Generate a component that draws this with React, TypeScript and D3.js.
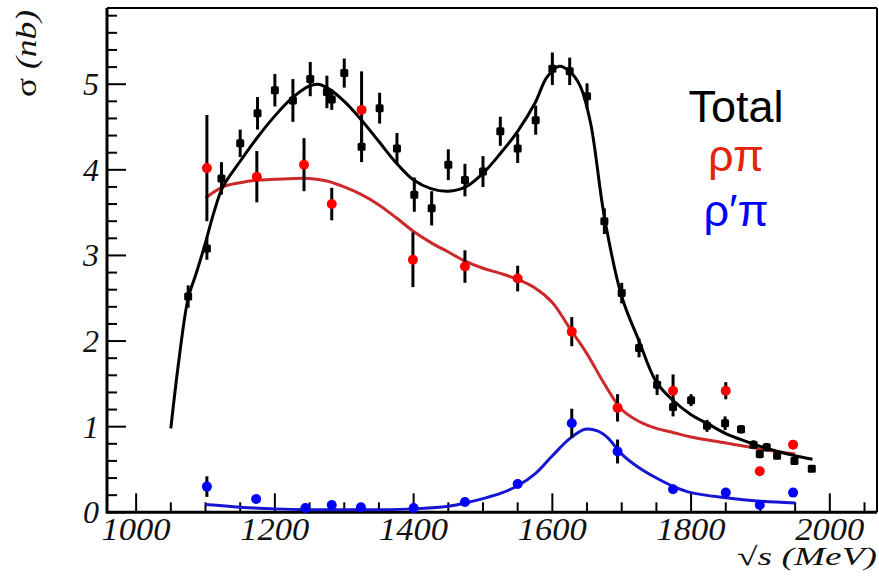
import React from 'react';
import * as d3 from 'd3';

// ---- data ----
const totalX = [1075,1102,1123,1150,1175,1200,1226,1251,1275,1282,1300,1325,1351,1376,1401,1426,1450,1474,1500,1525,1550,1576,1600,1625,1650,1675,1700,1725,1751,1774,1800,1823,1849,1872,1890,1899,1909,1924,1949,1974];
const totalY = [2.52,3.08,3.90,4.31,4.66,4.93,4.81,5.06,4.91,4.82,5.13,4.27,4.72,4.25,3.71,3.55,4.06,3.88,3.98,4.45,4.25,4.58,5.18,5.15,4.86,3.40,2.56,1.92,1.49,1.23,1.31,1.01,1.04,0.97,0.79,0.68,0.76,0.66,0.60,0.51];
const totalErr = [0.13,0.13,0.19,0.16,0.19,0.19,0.25,0.2,0.19,0.12,0.17,0.18,0.18,0.18,0.2,0.2,0.18,0.19,0.18,0.17,0.17,0.17,0.19,0.16,0.15,0.15,0.12,0.11,0.12,0.11,0.07,0.07,0.08,0.05,0.05,0.05,0.05,0.04,0.04,0.04];

const rhoPiX = [1102,1174,1242,1282,1325,1399,1474,1550,1628,1694,1774,1850,1899,1947];
const rhoPiY = [4.02,3.92,4.06,3.60,4.70,2.95,2.87,2.73,2.11,1.22,1.42,1.42,0.48,0.79];
const rhoPiErr = [0.62,0.30,0.31,0.19,0.45,0.32,0.19,0.15,0.17,0.16,0.19,0.10,0.03,0.03];

const rhoPrimeX = [1102,1173,1244,1282,1324,1400,1474,1550,1628,1694,1774,1850,1899,1947];
const rhoPrimeY = [0.30,0.155,0.05,0.085,0.06,0.05,0.12,0.33,1.04,0.71,0.27,0.23,0.085,0.23];
const rhoPrimeErr = [0.12,0.03,0.02,0.02,0.02,0.02,0.02,0.03,0.17,0.14,0.04,0.03,0.02,0.03];

const totalCurveX = [1050,1062,1075,1087,1100,1112,1125,1150,1175,1200,1225,1250,1262,1275,1300,1325,1350,1375,1400,1425,1450,1475,1500,1525,1550,1575,1592,1610,1625,1640,1655,1675,1700,1725,1750,1775,1800,1825,1850,1875,1900,1925,1950,1975];
const totalCurveY = [0.98,1.80,2.50,2.80,3.15,3.50,3.80,4.10,4.38,4.63,4.84,4.98,5.0,4.96,4.80,4.58,4.33,4.08,3.88,3.78,3.75,3.80,3.96,4.19,4.45,4.78,5.08,5.21,5.15,4.98,4.55,3.45,2.52,2.0,1.52,1.30,1.14,1.03,0.92,0.84,0.77,0.71,0.66,0.62];

const rhoCurveX = [1100,1125,1150,1175,1200,1250,1275,1300,1325,1350,1375,1400,1425,1450,1475,1500,1525,1550,1575,1600,1625,1650,1675,1700,1725,1750,1775,1800,1850,1900,1950];
const rhoCurveY = [3.67,3.80,3.85,3.88,3.89,3.90,3.87,3.80,3.71,3.59,3.44,3.28,3.15,3.04,2.93,2.85,2.79,2.72,2.62,2.45,2.15,1.85,1.50,1.20,1.06,0.98,0.93,0.88,0.81,0.74,0.68];

const rhoPrimeCurveX = [1100,1150,1200,1250,1300,1350,1400,1450,1475,1500,1525,1550,1575,1600,1625,1647,1665,1680,1700,1725,1750,1775,1800,1850,1900,1950];
const rhoPrimeCurveY = [0.09,0.06,0.04,0.03,0.03,0.03,0.04,0.07,0.11,0.16,0.22,0.31,0.45,0.66,0.86,0.97,0.95,0.87,0.68,0.52,0.40,0.30,0.23,0.17,0.13,0.11];

const xTickLabels = [1000, 1200, 1400, 1600, 1800, 2000];
const yTickLabels = [0, 1, 2, 3, 4, 5];
const legendLabels = ['Total', 'ρπ', 'ρ′π'];

// ---- layout ----
const W = 879, H = 580;
const L = 107, R = 877, T = 8, B = 512.3;

export default function App() {
  const x = d3.scaleLinear().domain([958, 2068]).range([L, R]);
  const y = d3.scaleLinear().domain([0, 5.89]).range([B, T]);

  const line = d3.line<[number, number]>()
    .x(d => x(d[0]))
    .y(d => y(d[1]))
    .curve(d3.curveCatmullRom.alpha(0.5));

  const pts = (xs: number[], ys: number[]) => xs.map((v, i) => [v, ys[i]] as [number, number]);

  const xMinor = d3.range(1000, 2068, 50);
  const yMinor = d3.range(0, 5.81, 0.2);

  const serif = '"Liberation Serif", "Times New Roman", serif';
  const sans = '"Liberation Sans", Arial, sans-serif';

  const errBars = (xs: number[], ys: number[], es: number[], key: string) =>
    xs.map((v, i) => (
      <line key={key + i} x1={x(v)} x2={x(v)} y1={y(ys[i] + es[i])} y2={y(Math.max(0, ys[i] - es[i]))}
        stroke="#000" strokeWidth={3} />
    ));

  return (
    <svg width={W} height={H} style={{ position: 'absolute', left: 0, top: 0, background: '#fff' }}>
      <rect x={0} y={0} width={W} height={H} fill="#fff" />
      {/* frame */}
      <line x1={L} x2={R} y1={T} y2={T} stroke="#000" strokeWidth={2} />
      <line x1={R} x2={R} y1={T} y2={B} stroke="#000" strokeWidth={2} />
      <line x1={L} x2={L} y1={T} y2={B + 1} stroke="#000" strokeWidth={3} />
      <line x1={L - 1} x2={R} y1={B} y2={B} stroke="#000" strokeWidth={3} />

      {/* x ticks */}
      {xMinor.map(v => (
        <line key={'xm' + v} x1={x(v)} x2={x(v)} y1={B} y2={B - (v % 200 === 0 ? 19 : 10)} stroke="#000" strokeWidth={2} />
      ))}
      {xTickLabels.map(v => (
        <text key={'xl' + v} x={x(v)} y={540} textAnchor="middle" fontFamily={serif} fontStyle="italic" fontSize={31} textLength={69} lengthAdjust="spacingAndGlyphs" fill="#111">{v}</text>
      ))}
      {/* y ticks */}
      {yMinor.map((v, i) => (
        <line key={'ym' + i} x1={L} x2={L + (i % 5 === 0 ? 19 : 10)} y1={y(v)} y2={y(v)} stroke="#000" strokeWidth={2} />
      ))}
      {yTickLabels.map(v => (
        <text key={'yl' + v} x={99} y={y(v) + 11} textAnchor="end" fontFamily={serif} fontStyle="italic" fontSize={32} fill="#111">{v}</text>
      ))}

      {/* axis titles */}
      <text transform="translate(36,53.5) rotate(-90)" textAnchor="middle" fontFamily={serif} fontSize={30} textLength={87} lengthAdjust="spacingAndGlyphs" fill="#111">
        σ <tspan fontStyle="italic">(nb)</tspan>
      </text>
      <text x={877} y={565} textAnchor="end" fontFamily={serif} fontStyle="italic" fontSize={26} textLength={140} lengthAdjust="spacingAndGlyphs" fill="#111">√s (MeV)</text>

      {/* curves */}
      <path d={line(pts(rhoPrimeCurveX, rhoPrimeCurveY)) || ''} fill="none" stroke="#1616d2" strokeWidth={3} />
      <path d={line(pts(rhoCurveX, rhoCurveY)) || ''} fill="none" stroke="#cc2a2a" strokeWidth={3} />
      <path d={line(pts(totalCurveX, totalCurveY)) || ''} fill="none" stroke="#000" strokeWidth={3} />

      {/* error bars */}
      {errBars(totalX, totalY, totalErr, 'te')}
      {errBars(rhoPiX, rhoPiY, rhoPiErr, 're')}
      {errBars(rhoPrimeX, rhoPrimeY, rhoPrimeErr, 'be')}

      {/* markers */}
      {totalX.map((v, i) => (
        <rect key={'tm' + i} x={x(v) - 4} y={y(totalY[i]) - 4} width={8} height={8} rx={1.5} fill="#000" />
      ))}
      {rhoPiX.map((v, i) => (
        <circle key={'rm' + i} cx={x(v)} cy={y(rhoPiY[i])} r={5} fill="#ff0000" />
      ))}
      {rhoPrimeX.map((v, i) => (
        <circle key={'bm' + i} cx={x(v)} cy={y(rhoPrimeY[i])} r={5} fill="#0000ff" />
      ))}

      {/* legend */}
      <text x={736} y={122} textAnchor="middle" fontFamily={sans} fontSize={45} fill="#000">{legendLabels[0]}</text>
      <text x={736} y={171} textAnchor="middle" fontFamily={sans} fontSize={45} fill="#e2240c">{legendLabels[1]}</text>
      <text x={736} y={226} textAnchor="middle" fontFamily={sans} fontSize={45} fill="#0000ff">{legendLabels[2]}</text>
    </svg>
  );
}
